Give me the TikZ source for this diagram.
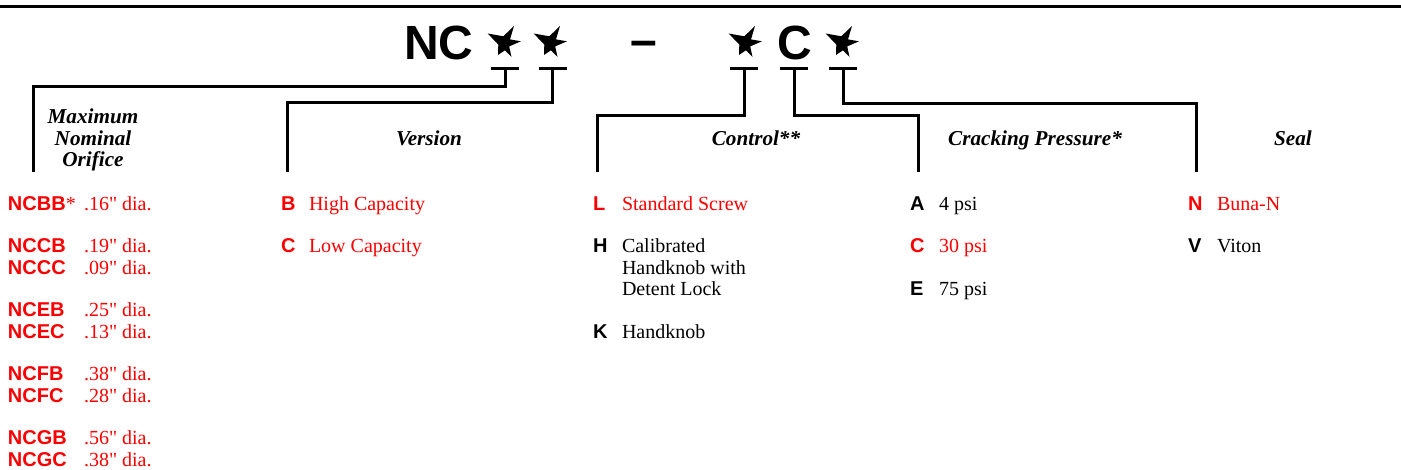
\documentclass[tikz,border=0pt]{standalone}
\usepackage{fontspec}
\setmainfont{Liberation Serif}[Ligatures=TeXOff]
\newfontfamily\codefont{Liberation Sans}
\definecolor{cred}{RGB}{250,0,0}
\begin{document}
\begin{tikzpicture}[x=0.5pt,y=-0.5pt,
  every node/.style={inner sep=0pt, outer sep=0pt},
  txt/.style={anchor=base west, font=\fontsize{10}{10.75}\selectfont},
  code/.style={anchor=base west, font=\codefont\bfseries\fontsize{10}{10.75}\selectfont},
  head/.style={font=\bfseries\itshape\fontsize{10.6}{10.6}\selectfont, align=center},
  big/.style={anchor=base, font=\codefont\bfseries\fontsize{24}{24}\selectfont},
  pics/starglyph/.style={code={
    \fill[black] (9,-17) -- (5,-3.6) -- (16,-1.7) -- (4.2,3.4) -- (6.5,14) -- (0,7.3)
      -- (-7,12) -- (-6.7,1.6) -- (-17.3,-9.5) -- (-1.7,-6.7) -- cycle;}},
  conn/.style={line width=1.5pt, line join=miter},
  hl/.style={text=cred}]
\useasboundingbox (0,0) rectangle (1401,470);
% top rule
\draw[line width=1.5pt] (0,6.5) -- (1401,6.5);
% model code
\node[big] (nc) at (439,60) {NC};
\coordinate (s1) at (505,43);
\coordinate (s2) at (551,43);
\coordinate (s3) at (746,43);
\coordinate (s4) at (843,43);
\foreach \s in {s1,s2,s3,s4} \pic at (\s) {starglyph};
\node[big] (dash) at (644,57) {–};
\node[big] (cc) at (795,60) {C};
% bars
\coordinate (b1) at (505,69);
\coordinate (b2) at (552.5,69);
\coordinate (b3) at (744,69);
\coordinate (b4) at (794,69);
\coordinate (b5) at (843,69);
\foreach \b in {b1,b2,b3,b4,b5}
  \draw[conn] (\b) ++(-14,0) -- ++(28,0);
% knees and ends
\coordinate (k1) at (33,87);    \coordinate (t1) at (33,172);
\coordinate (k2) at (287,103);  \coordinate (t2) at (287,172);
\coordinate (k3) at (597,115.5);\coordinate (t3) at (597,172);
\coordinate (k4) at (918,115.5);\coordinate (t4) at (918,172);
\coordinate (k5) at (1196,104); \coordinate (t5) at (1196,172);
\draw[conn] (b1) |- (k1) -- (t1);
\draw[conn] (b2) |- (k2) -- (t2);
\draw[conn] (b3) |- (k3) -- (t3);
\draw[conn] (b4) |- (k4) -- (t4);
\draw[conn] (b5) |- (k5) -- (t5);
% headings
\node[head, anchor=center] (h1) at (93,140) {Maximum\\Nominal\\Orifice};
\node[head, anchor=base] (h2) at (429,146) {Version};
\node[head, anchor=base] (h3) at (756,146) {Control**};
\node[head, anchor=base] (h4) at (1035,146) {Cracking Pressure*};
\node[head, anchor=base] (h5) at (1293,146) {Seal};
% column 1
\node[code,hl] (c1a) at (8,210.5) {NCBB\textnormal{\rmfamily\mdseries *}};
\node[txt,hl] (d1a) at (84,210.5) {.16" dia.};
\node[code,hl] (c1b) at (8,252.5) {NCCB};
\node[txt,hl] (d1b) at (84,252.5) {.19" dia.};
\node[code,hl] (c1c) at (8,274) {NCCC};
\node[txt,hl] (d1c) at (84,274) {.09" dia.};
\node[code,hl] (c1d) at (8,316.5) {NCEB};
\node[txt,hl] (d1d) at (84,316.5) {.25" dia.};
\node[code,hl] (c1e) at (8,338) {NCEC};
\node[txt,hl] (d1e) at (84,338) {.13" dia.};
\node[code,hl] (c1f) at (8,380.5) {NCFB};
\node[txt,hl] (d1f) at (84,380.5) {.38" dia.};
\node[code,hl] (c1g) at (8,402) {NCFC};
\node[txt,hl] (d1g) at (84,402) {.28" dia.};
\node[code,hl] (c1h) at (8,444.5) {NCGB};
\node[txt,hl] (d1h) at (84,444.5) {.56" dia.};
\node[code,hl] (c1i) at (8,466) {NCGC};
\node[txt,hl] (d1i) at (84,466) {.38" dia.};
% column 2
\node[code,hl] (c2a) at (281,210.5) {B};
\node[txt,hl] (d2a) at (309,210.5) {High Capacity};
\node[code,hl] (c2b) at (281,252.5) {C};
\node[txt,hl] (d2b) at (309,252.5) {Low Capacity};
% column 3
\node[code,hl] (c3a) at (593,210.5) {L};
\node[txt,hl] (d3a) at (622,210.5) {Standard Screw};
\node[code] (c3b) at (593,252.5) {H};
\node[txt] (d3b) at (622,252.5) {Calibrated};
\node[txt] (d3c) at (622,274) {Handknob with};
\node[txt] (d3d) at (622,295.5) {Detent Lock};
\node[code] (c3e) at (593,338) {K};
\node[txt] (d3e) at (622,338) {Handknob};
% column 4
\node[code] (c4a) at (910,210.5) {A};
\node[txt] (d4a) at (939,210.5) {4 psi};
\node[code,hl] (c4b) at (910,252.5) {C};
\node[txt,hl] (d4b) at (939,252.5) {30 psi};
\node[code] (c4c) at (910,295.5) {E};
\node[txt] (d4c) at (939,295.5) {75 psi};
% column 5
\node[code,hl] (c5a) at (1188,210.5) {N};
\node[txt,hl] (d5a) at (1217,210.5) {Buna-N};
\node[code] (c5b) at (1188,252.5) {V};
\node[txt] (d5b) at (1217,252.5) {Viton};
\end{tikzpicture}
\end{document}
